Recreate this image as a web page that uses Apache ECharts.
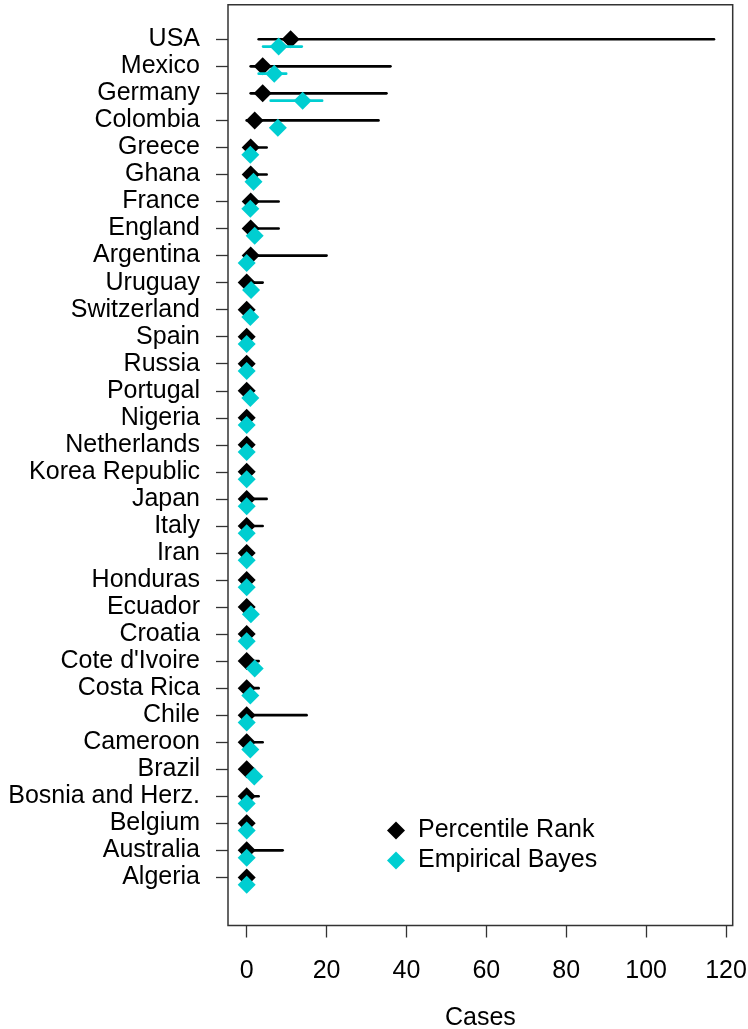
<!DOCTYPE html>
<html>
<head>
<meta charset="utf-8">
<script src="https://cdn.jsdelivr.net/npm/echarts@6/dist/echarts.min.js"></script>
<style>
html,body{margin:0;padding:0;background:#fff;}
#chart{width:748px;height:1029px;}
</style>
</head>
<body>
<div id="chart"></div>
<script>
// Countries, top to bottom
const countries = ['USA','Mexico','Germany','Colombia','Greece','Ghana','France','England','Argentina','Uruguay','Switzerland','Spain','Russia','Portugal','Nigeria','Netherlands','Korea Republic','Japan','Italy','Iran','Honduras','Ecuador','Croatia',"Cote d'Ivoire",'Costa Rica','Chile','Cameroon','Brazil','Bosnia and Herz.','Belgium','Australia','Algeria'];

// Percentile Rank estimate and interval
const prValue = [11,4,4,2,1,1,1,1,1,0,0,0,0,0,0,0,0,0,0,0,0,0,0,0,0,0,0,0,0,0,0,0];
const prLow   = [3,1,1,0,0,0,0,0,0,0,0,0,0,0,0,0,0,0,0,0,0,0,0,0,0,0,0,0,0,0,0,0];
const prHigh  = [117,36,35,33,5,5,8,8,20,4,0,0,0,0,0,0,0,5,4,0,0,0,0,3,3,15,4,0,3,0,9,0];

// Empirical Bayes estimate and interval
const ebValue = [8.0,6.9,14.0,7.8,0.9,1.7,0.9,2.0,0,1.1,0.9,0,0,0.9,0,0,0,0,0,0,0,1.05,0,2.0,0.9,0,0.9,1.9,0,0,0,0];
const ebLow   = [4.1,3.0,6.0,6.5,0.9,1.7,0.9,2.0,0,1.1,0.9,0,0,0.9,0,0,0,0,0,0,0,1.05,0,2.0,0.9,0,0.9,1.9,0,0,0,0];
const ebHigh  = [13.8,9.9,18.9,9.2,0.9,1.7,0.9,2.0,0,1.1,0.9,0,0,0.9,0,0,0,0,0,0,0,1.05,0,2.0,0.9,0,0.9,1.9,0,0,0,0];

const xTicks = [0,20,40,60,80,100,120];

const N = countries.length;
const ebShift = 0.27;
const BLACK = '#000000';
const CYAN = '#00CED1';
const FONT = "'Liberation Sans', Arial, sans-serif";

const yPos = i => N - i;

const prBarData = countries.map((c,i)=>[prLow[i], prHigh[i], yPos(i)]);
const prPtData  = countries.map((c,i)=>[prValue[i], yPos(i)]);
const ebBarData = countries.map((c,i)=>[ebLow[i], ebHigh[i], yPos(i)-ebShift]);
const ebPtData  = countries.map((c,i)=>[ebValue[i], yPos(i)-ebShift]);

function barRenderer(color){
  return function(params, api){
    const a = api.coord([api.value(0), api.value(2)]);
    const b = api.coord([api.value(1), api.value(2)]);
    return {type:'line', shape:{x1:a[0],y1:a[1],x2:b[0],y2:b[1]},
      style:{stroke:color, lineWidth:2.6, lineCap:'round'}};
  };
}

const chart = echarts.init(document.getElementById('chart'), null, {renderer:'canvas'});
chart.setOption({
  backgroundColor:'#fff',
  animation:false,
  textStyle:{fontFamily:FONT},
  grid:{left:228, right:15.3, top:4.7, bottom:103.5, outerBoundsMode:'none', containLabel:false,
    show:true, borderColor:'#333', borderWidth:1.5, backgroundColor:'transparent'},
  xAxis:{
    type:'value', min:-4.68, max:121.68,
    axisLine:{show:false, onZero:false},
    splitLine:{show:false},
    axisTick:{show:true, length:12, lineStyle:{color:'#333', width:1.3}, customValues:xTicks},
    axisLabel:{color:'#000', fontSize:25, fontFamily:FONT, margin:33, customValues:xTicks},
    name:'Cases', nameLocation:'middle', nameGap:80,
    nameTextStyle:{color:'#000', fontSize:25, fontFamily:FONT}
  },
  yAxis:{
    type:'value', min:-0.78, max:33.28,
    axisLine:{show:false, onZero:false},
    splitLine:{show:false},
    axisTick:{show:true, length:12, lineStyle:{color:'#333', width:1.3}, customValues:countries.map((c,i)=>yPos(i))},
    axisLabel:{color:'#000', fontSize:25, fontFamily:FONT, margin:28,
      customValues:countries.map((c,i)=>yPos(i)),
      formatter:v=>countries[N - Math.round(v)]}
  },
  legend:{
    data:['Percentile Rank','Empirical Bayes'],
    orient:'vertical', left:382, top:813,
    icon:'diamond', itemWidth:18, itemHeight:18, itemGap:5,
    textStyle:{color:'#000', fontSize:25, fontFamily:FONT, padding:[0,0,0,8]},
    selectedMode:false
  },
  series:[
    {type:'custom', name:'prBars', renderItem:barRenderer(BLACK), data:prBarData, encode:{x:[0,1], y:2}, z:2},
    {type:'scatter', name:'Percentile Rank', data:prPtData, symbol:'diamond', symbolSize:18, itemStyle:{color:BLACK, opacity:1}, z:3},
    {type:'custom', name:'ebBars', renderItem:barRenderer(CYAN), data:ebBarData, encode:{x:[0,1], y:2}, z:4},
    {type:'scatter', name:'Empirical Bayes', data:ebPtData, symbol:'diamond', symbolSize:18, itemStyle:{color:CYAN, opacity:1}, z:5}
  ]
});
</script>
</body>
</html>
